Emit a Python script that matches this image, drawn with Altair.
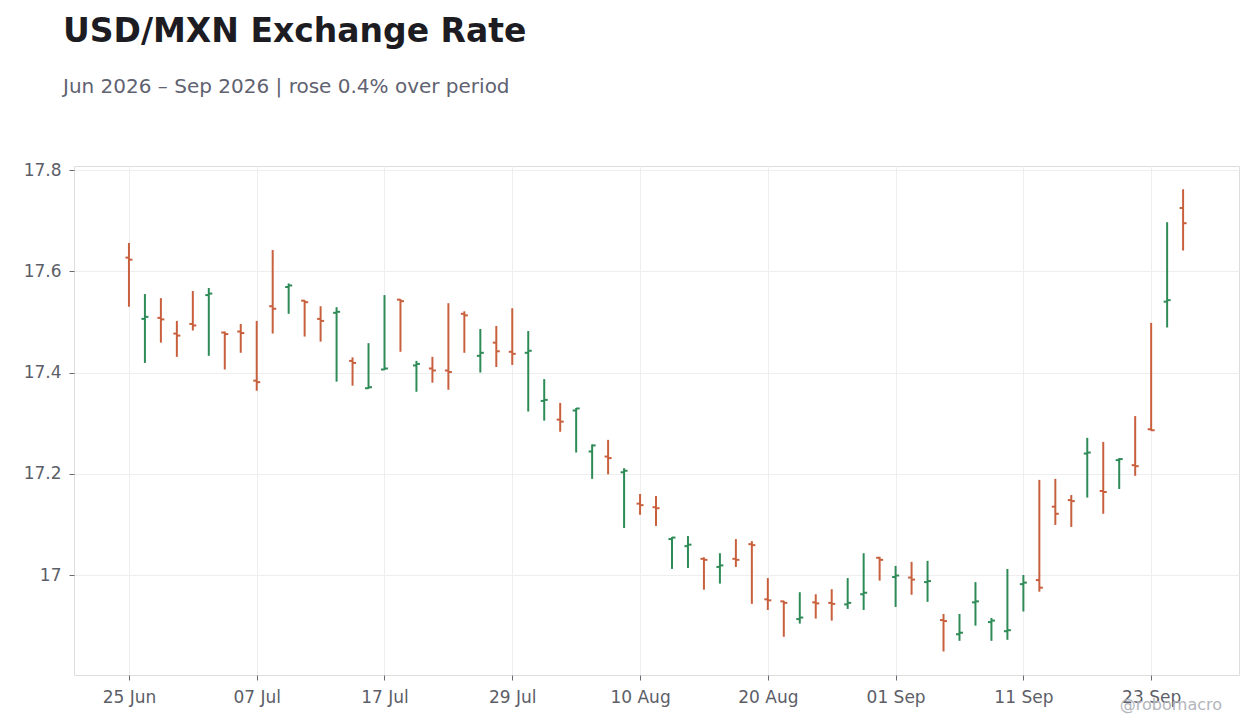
import altair as alt
import pandas as pd

# Business days shown on the chart (25 Jun 2026 .. 25 Sep 2026)
dates = pd.bdate_range("2026-06-25", "2026-09-25")

opens = [17.627, 17.506, 17.508, 17.477, 17.496, 17.553, 17.479, 17.481, 17.384, 17.531,
         17.569, 17.542, 17.506, 17.518, 17.423, 17.369, 17.406, 17.544, 17.414, 17.408,
         17.404, 17.516, 17.433, 17.459, 17.441, 17.439, 17.344, 17.307, 17.325, 17.244,
         17.234, 17.203, 17.141, 17.134, 17.071, 17.057, 17.032, 17.016, 17.032, 17.061,
         16.952, 16.948, 16.913, 16.946, 16.945, 16.942, 16.962, 17.034, 16.996, 16.995,
         16.986, 16.911, 16.883, 16.946, 16.907, 16.889, 16.982, 16.990, 17.135, 17.148,
         17.240, 17.166, 17.227, 17.217, 17.288, 17.540, 17.725]
highs = [17.656, 17.555, 17.547, 17.502, 17.561, 17.567, 17.481, 17.496, 17.502, 17.642,
         17.576, 17.543, 17.531, 17.529, 17.430, 17.458, 17.553, 17.545, 17.423, 17.431,
         17.537, 17.521, 17.486, 17.492, 17.527, 17.482, 17.387, 17.340, 17.330, 17.258,
         17.267, 17.211, 17.160, 17.156, 17.075, 17.077, 17.035, 17.043, 17.071, 17.067,
         16.994, 16.949, 16.966, 16.962, 16.972, 16.994, 17.043, 17.036, 17.018, 17.026,
         17.028, 16.923, 16.923, 16.986, 16.915, 17.012, 17.000, 17.188, 17.190, 17.158,
         17.271, 17.263, 17.231, 17.314, 17.498, 17.697, 17.762]
lows = [17.530, 17.419, 17.459, 17.431, 17.483, 17.433, 17.406, 17.439, 17.364, 17.477,
        17.516, 17.471, 17.461, 17.382, 17.374, 17.368, 17.405, 17.441, 17.362, 17.380,
        17.366, 17.439, 17.400, 17.411, 17.415, 17.323, 17.305, 17.283, 17.242, 17.190,
        17.199, 17.093, 17.119, 17.097, 17.012, 17.014, 16.971, 16.983, 17.016, 16.943,
        16.931, 16.878, 16.904, 16.914, 16.910, 16.933, 16.931, 16.989, 16.937, 16.961,
        16.947, 16.849, 16.870, 16.900, 16.870, 16.872, 16.928, 16.967, 17.099, 17.095,
        17.153, 17.121, 17.170, 17.196, 17.285, 17.489, 17.641]
closes = [17.623, 17.510, 17.505, 17.473, 17.493, 17.556, 17.476, 17.478, 17.381, 17.526,
          17.572, 17.539, 17.502, 17.520, 17.419, 17.371, 17.408, 17.541, 17.417, 17.404,
          17.401, 17.513, 17.439, 17.442, 17.437, 17.443, 17.346, 17.303, 17.329, 17.256,
          17.231, 17.206, 17.138, 17.132, 17.074, 17.060, 17.030, 17.019, 17.030, 17.059,
          16.950, 16.945, 16.916, 16.944, 16.943, 16.945, 16.965, 17.030, 16.999, 16.991,
          16.988, 16.909, 16.886, 16.948, 16.910, 16.891, 16.985, 16.975, 17.121, 17.146,
          17.242, 17.164, 17.229, 17.215, 17.286, 17.543, 17.695]

y_ticks = [17.0, 17.2, 17.4, 17.6, 17.8]
tick_idx = list(range(0, len(dates), 8))
tick_labels = [dates[i].strftime("%d %b") for i in tick_idx]

GREEN = "#2e8b57"
RED = "#c8603e"
LABEL = "#5c5e68"
FONT = "DejaVu Sans"

df = pd.DataFrame({
    "idx": range(len(dates)),
    "date": [d.strftime("%Y-%m-%d") for d in dates],
    "open": opens, "high": highs, "low": lows, "close": closes,
})
df["dir"] = ["up" if c >= o else "down" for o, c in zip(opens, closes)]

label_expr = "[" + ",".join("'" + t + "'" for t in tick_labels) + "][round(datum.value / 8)]"

x_scale = alt.Scale(domain=[-3.44, 69.5], nice=False, zero=False)
y_scale = alt.Scale(domain=[16.8025, 17.808], nice=False, zero=False)

x_enc = alt.X("idx:Q", scale=x_scale,
              axis=alt.Axis(values=tick_idx, labelExpr=label_expr, title=None,
                            grid=True, domain=False, tickSize=5, labelPadding=9))
color_enc = alt.Color("dir:N", scale=alt.Scale(domain=["up", "down"], range=[GREEN, RED]),
                      legend=None)

base = alt.Chart(df).encode(x=x_enc, color=color_enc)

wicks = base.mark_rule(strokeWidth=2).encode(
    y=alt.Y("low:Q", scale=y_scale,
            axis=alt.Axis(values=y_ticks, format=".1~f", title=None, grid=True,
                          domain=False, tickSize=5, labelPadding=8)),
    y2="high:Q",
)
open_ticks = base.mark_rule(strokeWidth=2, xOffset=-3.5, x2Offset=0).encode(
    x2=alt.X2("idx:Q"), y=alt.Y("open:Q", scale=y_scale)
)
close_ticks = base.mark_rule(strokeWidth=2, xOffset=0, x2Offset=3.5).encode(
    x2=alt.X2("idx:Q"), y=alt.Y("close:Q", scale=y_scale)
)

watermark = alt.Chart(pd.DataFrame({"t": ["@robomacro"]})).mark_text(
    align="right", baseline="middle", fontSize=16, color="#b3b5bb", font=FONT
).encode(text="t:N", x=alt.value(1148), y=alt.value(539))

chart = alt.layer(wicks, open_ticks, close_ticks, watermark).properties(
    width=1165,
    height=509,
    background="white",
    autosize=alt.AutoSizeParams(type="none"),
    padding={"left": 66, "top": 158, "right": 13, "bottom": 45},
    title=alt.TitleParams(
        text="USD/MXN Exchange Rate",
        subtitle="Jun 2026 \u2013 Sep 2026 | rose 0.4% over period",
        anchor="start", frame="group", dx=-11, offset=64,
        font=FONT, fontSize=33, fontWeight="bold", color="#1c1c22",
        subtitleFont=FONT, subtitleFontSize=20, subtitleColor="#5f6270",
        subtitlePadding=28,
    ),
).configure_view(stroke="#dddddd", strokeWidth=1).configure_axis(
    labelFont=FONT, labelFontSize=17, labelColor=LABEL,
    gridColor="#eeeeee", gridWidth=1, tickColor="#666a72",
)

chart.save("out.html", embed_options={"renderer": "svg", "actions": False})
